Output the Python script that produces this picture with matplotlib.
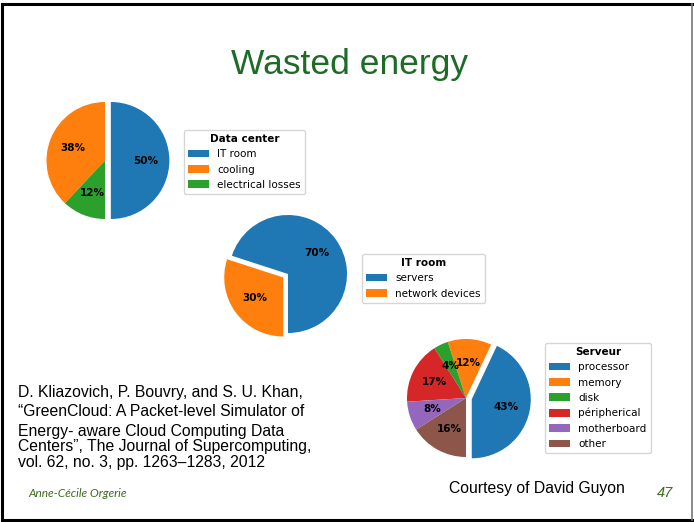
import matplotlib
matplotlib.use("Agg")
import matplotlib.pyplot as plt
from matplotlib.lines import Line2D

W, H = 694, 522

# pie data
dc_labels = ["IT room", "cooling", "electrical losses"]
dc_values = [50, 38, 12]

it_labels = ["servers", "network devices"]
it_values = [70, 30]

srv_labels = ["processor", "memory", "disk", "péripherical", "motherboard", "other"]
srv_values = [43, 12, 4, 17, 8, 16]

citation = [
    "D. Kliazovich, P. Bouvry, and S. U. Khan,",
    "\u201cGreenCloud: A Packet-level Simulator of",
    "Energy- aware Cloud Computing Data",
    "Centers\u201d, The Journal of Supercomputing,",
    "vol. 62, no. 3, pp. 1263\u20131283, 2012",
]

FS = 7.5
GREEN = "#1e6b26"


def px(x, y):
    return x / W, 1 - y / H


def pie_axes(fig, cx, cy, r):
    side = 2.5 * r
    return fig.add_axes([(cx - side / 2) / W, (H - cy - side / 2) / H, side / W, side / H])


def draw_pie(fig, cx, cy, r, values, labels, explode, title, leg_xy):
    ax = pie_axes(fig, cx, cy, r)
    wedges, _, autotexts = ax.pie(values, explode=explode, startangle=-90,
                                  autopct="%1.0f%%", textprops={"fontsize": FS})
    for t in autotexts:
        t.set_fontweight("bold")
    ax.set_aspect("equal")
    fig.legend(wedges, labels, title=title, loc="upper left",
               bbox_to_anchor=px(*leg_xy), bbox_transform=fig.transFigure,
               borderaxespad=0, fontsize=FS,
               title_fontproperties={"weight": "bold", "size": FS})


fig = plt.figure(figsize=(W / 100, H / 100), dpi=100)
fig.patch.set_facecolor("white")

draw_pie(fig, 105, 160.5, 58.5, dc_values, dc_labels, (0.1, 0, 0), "Data center", (184, 130))
draw_pie(fig, 288, 274, 59, it_values, it_labels, (0, 0.1), "IT room", (362, 254))
draw_pie(fig, 466, 398, 59, srv_values, srv_labels, (0.1, 0, 0, 0, 0, 0), "Serveur", (545, 343))

# slide text
fig.text(*px(350, 74), "Wasted energy", ha="center", va="baseline",
         fontsize=25.5, color=GREEN, family="Liberation Sans")

baselines = [397, 416, 436, 451, 467]
for line, yb in zip(citation, baselines):
    fig.text(*px(18, yb), line, ha="left", va="baseline", fontsize=11.3,
             color="black", family="Liberation Sans")

fig.text(*px(28, 497), "Anne-Cécile Orgerie", ha="left", va="baseline",
         fontsize=8.6, style="italic", color="#3f6b1f", family="Lato")
fig.text(*px(449, 493), "Courtesy of David Guyon", ha="left", va="baseline",
         fontsize=11.3, color="black", family="Liberation Sans")
fig.text(*px(657, 497), "47", ha="left", va="baseline",
         fontsize=10.5, style="italic", color="#3f6b1f", family="Liberation Sans")

# slide frame
frame = [((1.5, 1.5), (4, 520)), ((1.5, 692), (4, 4)), ((1.5, 692), (520, 520))]
for xs, ys in frame:
    fig.add_artist(Line2D([x / W for x in xs], [1 - y / H for y in ys],
                          color="black", lw=2.2))
fig.add_artist(Line2D([692 / W, 692 / W], [1 - 4 / H, 1 - 520 / H], color="#777777", lw=1.2))

fig.savefig("out.png", dpi=100)
